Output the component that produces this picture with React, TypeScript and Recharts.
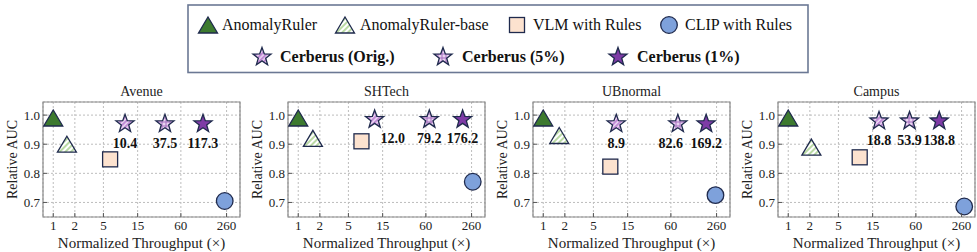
import React from 'react'
import { ScatterChart, Scatter, XAxis, YAxis, CartesianGrid, ReferenceArea } from 'recharts'

const FONT = "'Times New Roman', Times, 'Liberation Serif', 'DejaVu Serif', serif"
const EDGE = '#1f2a4d'

// shared axes
const panelNames = ['Avenue', 'SHTech', 'UBnormal', 'Campus']
const xTicks = [1, 2, 5, 15, 60, 260]
const yTicks = [0.7, 0.8, 0.9, 1.0]

// one entry per panel (Avenue, SHTech, UBnormal, Campus)
const rulerX = [1, 1, 1, 1]
const rulerY = [0.99, 0.99, 0.99, 0.99]
const baseX = [1.55, 1.6, 1.67, 2.1]
const baseY = [0.9, 0.92, 0.93, 0.89]
const vlmX = [6.2, 7.6, 8.6, 9.9]
const vlmY = [0.848, 0.91, 0.823, 0.855]
const clipX = [245, 270, 251, 283]
const clipY = [0.705, 0.771, 0.725, 0.686]
const origX = [10, 11.6, 10.4, 18.4]
const origY = [0.97, 0.985, 0.97, 0.98]
const origLabel = ['10.4', '12.0', '8.9', '18.8']
const fiveX = [36, 67, 75, 49]
const fiveY = [0.97, 0.985, 0.97, 0.98]
const fiveLabel = ['37.5', '79.2', '82.6', '53.9']
const oneX = [122, 195, 186, 127]
const oneY = [0.97, 0.985, 0.97, 0.98]
const oneLabel = ['117.3', '176.2', '169.2', '138.8']

// label nudges (px) so the numbers don't collide
const origLabelShift = [0, 18, 0, 0]
const fiveLabelShift = [0, 0, -7, 0]

const X_DOMAIN: [number, number] = [0.72, 400]
const Y_DOMAIN: [number, number] = [0.65, 1.045]

function starPath(cx: number, cy: number, R: number, r: number) {
  let d = ''
  for (let k = 0; k < 10; k++) {
    const rad = k % 2 === 0 ? R : r
    const a = -Math.PI / 2 + (k * Math.PI) / 5
    d += `${k === 0 ? 'M' : 'L'}${cx + rad * Math.cos(a)},${cy + rad * Math.sin(a)}`
  }
  return d + 'Z'
}

function Tri({ cx, cy, fill }: any) {
  const w = 9.5
  const h = 8
  return (
    <path
      d={`M${cx},${cy - h}L${cx + w},${cy + h}L${cx - w},${cy + h}Z`}
      fill={fill}
      stroke={EDGE}
      strokeWidth={1.3}
    />
  )
}

function Square({ cx, cy }: any) {
  return <rect x={cx - 7.5} y={cy - 7.5} width={15} height={15} fill="#fce2cf" stroke={EDGE} strokeWidth={1.3} />
}

function Dot({ cx, cy }: any) {
  return <circle cx={cx} cy={cy} r={8.3} fill="#7ea1db" stroke={EDGE} strokeWidth={1.3} />
}

function Star({ cx, cy, fill, label, dx = 0 }: any) {
  return (
    <g>
      <path d={starPath(cx, cy, 9.5, 3.9)} fill={fill} stroke={EDGE} strokeWidth={1.3} strokeLinejoin="miter" />
      {label && (
        <text
          x={cx + dx}
          y={cy + 24}
          textAnchor="middle"
          fontFamily={FONT}
          fontWeight="bold"
          fontSize={14}
          fill="#111"
        >
          {label}
        </text>
      )}
    </g>
  )
}

const XTick = (p: any) => (
  <g>
    <line x1={p.x} x2={p.x} y1={p.y} y2={p.y - 4} stroke="#555" />
    <text x={p.x} y={p.y + 13} textAnchor="middle" fontFamily={FONT} fontSize={13} fill="#222">
      {p.payload.value}
    </text>
  </g>
)

const YTick = (p: any) => (
  <g>
    <line x1={p.x + 3} x2={p.x + 7} y1={p.y} y2={p.y} stroke="#555" />
    <text x={p.x} y={p.y + 4.5} textAnchor="end" fontFamily={FONT} fontSize={13} fill="#222">
      {Number(p.payload.value).toFixed(1)}
    </text>
  </g>
)

function Panel({ i }: { i: number }) {
  return (
    <div style={{ position: 'absolute', left: i * 245, top: 80, width: 245, height: 172 }}>
      <div
        style={{
          position: 'absolute',
          left: 43,
          width: 197,
          top: 4,
          textAlign: 'center',
          fontFamily: FONT,
          fontSize: 14,
          lineHeight: '16px',
          color: '#222',
        }}
      >
        {panelNames[i]}
      </div>
      <ScatterChart width={245} height={172} margin={{ top: 22, right: 5, bottom: 0, left: 0 }}>
        <CartesianGrid stroke="#bdbdbd" strokeDasharray="2 2" />
        <XAxis
          type="number"
          dataKey="x"
          scale="log"
          domain={X_DOMAIN}
          ticks={xTicks}
          allowDataOverflow
          height={35}
          tickSize={0}
          tickMargin={0}
          axisLine={false}
          tick={XTick}
          label={(props: any) => {
            const vb = props.viewBox ?? { x: 43, y: 137, width: 197, height: 35 }
            return (
              <text x={vb.x + vb.width / 2} y={vb.y + 31} textAnchor="middle" fontFamily={FONT} fontSize={15} fill="#222">
                Normalized Throughput (×)
              </text>
            )
          }}
        />
        <YAxis
          type="number"
          dataKey="y"
          domain={Y_DOMAIN}
          ticks={yTicks}
          allowDataOverflow
          width={43}
          tickSize={0}
          tickMargin={3}
          axisLine={false}
          tick={YTick}
          label={(props: any) => {
            const vb = props.viewBox ?? { x: 0, y: 22, width: 43, height: 115 }
            const cx = vb.x + 12
            const cy = vb.y + vb.height / 2
            return (
              <text
                x={cx}
                y={cy}
                transform={`rotate(-90 ${cx} ${cy})`}
                textAnchor="middle"
                dominantBaseline="central"
                fontFamily={FONT}
                fontSize={14}
                fill="#222"
              >
                Relative AUC
              </text>
            )
          }}
        />
        <ReferenceArea
          x1={X_DOMAIN[0]}
          x2={X_DOMAIN[1]}
          y1={Y_DOMAIN[0]}
          y2={Y_DOMAIN[1]}
          fill="none"
          stroke="#8a8a8a"
          strokeWidth={1.2}
          ifOverflow="visible"
        />
        <Scatter
          data={[{ x: rulerX[i], y: rulerY[i] }]}
          shape={(p: any) => <Tri cx={p.cx} cy={p.cy} fill="#3d7a2f" />}
          isAnimationActive={false}
        />
        <Scatter
          data={[{ x: baseX[i], y: baseY[i] }]}
          shape={(p: any) => <Tri cx={p.cx} cy={p.cy} fill="url(#hatchGreen)" />}
          isAnimationActive={false}
        />
        <Scatter data={[{ x: vlmX[i], y: vlmY[i] }]} shape={Square} isAnimationActive={false} />
        <Scatter data={[{ x: clipX[i], y: clipY[i] }]} shape={Dot} isAnimationActive={false} />
        <Scatter
          data={[{ x: origX[i], y: origY[i] }]}
          shape={(p: any) => (
            <Star cx={p.cx} cy={p.cy} fill="url(#hatchOrig)" label={origLabel[i]} dx={origLabelShift[i]} />
          )}
          isAnimationActive={false}
        />
        <Scatter
          data={[{ x: fiveX[i], y: fiveY[i] }]}
          shape={(p: any) => (
            <Star cx={p.cx} cy={p.cy} fill="url(#gridFive)" label={fiveLabel[i]} dx={fiveLabelShift[i]} />
          )}
          isAnimationActive={false}
        />
        <Scatter
          data={[{ x: oneX[i], y: oneY[i] }]}
          shape={(p: any) => <Star cx={p.cx} cy={p.cy} fill="#7e3ba6" label={oneLabel[i]} />}
          isAnimationActive={false}
        />
      </ScatterChart>
    </div>
  )
}

function LegendText({ x, y, bold, children }: any) {
  return (
    <text x={x} y={y} fontFamily={FONT} fontSize={16} fontWeight={bold ? 'bold' : 'normal'} fill="#111">
      {children}
    </text>
  )
}

export default function App() {
  return (
    <div style={{ position: 'absolute', left: 0, top: 0, width: 977, height: 252, background: '#fff' }}>
      <svg width={977} height={80} style={{ position: 'absolute', left: 0, top: 0 }}>
        <defs>
          <pattern id="hatchGreen" patternUnits="userSpaceOnUse" width="4" height="4" patternTransform="rotate(45)">
            <rect width="4" height="4" fill="#fff" />
            <line x1="1" y1="0" x2="1" y2="4" stroke="#a9d18e" strokeWidth="1.6" />
          </pattern>
          <pattern id="hatchOrig" patternUnits="userSpaceOnUse" width="3.5" height="3.5" patternTransform="rotate(45)">
            <rect width="3.5" height="3.5" fill="#c08ad6" />
            <line x1="1" y1="0" x2="1" y2="3.5" stroke="#f3e4f8" strokeWidth="1.3" />
          </pattern>
          <pattern id="gridFive" patternUnits="userSpaceOnUse" width="4" height="4">
            <rect width="4" height="4" fill="#e9d3f1" />
            <line x1="2" y1="0" x2="2" y2="4" stroke="#a56fc0" strokeWidth="1" />
            <line x1="0" y1="2" x2="4" y2="2" stroke="#a56fc0" strokeWidth="1" />
          </pattern>
        </defs>
        <rect x={188} y={5} width={620} height={67.5} fill="#fff" stroke="#6b7894" strokeWidth={1.6} />
        <Tri cx={208} cy={25} fill="#3d7a2f" />
        <LegendText x={222} y={30}>AnomalyRuler</LegendText>
        <Tri cx={345} cy={25} fill="url(#hatchGreen)" />
        <LegendText x={360} y={30}>AnomalyRuler-base</LegendText>
        <Square cx={517} cy={25} />
        <LegendText x={533} y={30}>VLM with Rules</LegendText>
        <Dot cx={669} cy={25} />
        <LegendText x={685} y={30}>CLIP with Rules</LegendText>
        <Star cx={262} cy={57} fill="url(#hatchOrig)" />
        <LegendText x={280} y={62} bold>Cerberus (Orig.)</LegendText>
        <Star cx={443} cy={57} fill="url(#gridFive)" />
        <LegendText x={462} y={62} bold>Cerberus (5%)</LegendText>
        <Star cx={618} cy={57} fill="#7e3ba6" />
        <LegendText x={637} y={62} bold>Cerberus (1%)</LegendText>
      </svg>
      {panelNames.map((_, i) => (
        <Panel key={i} i={i} />
      ))}
    </div>
  )
}
